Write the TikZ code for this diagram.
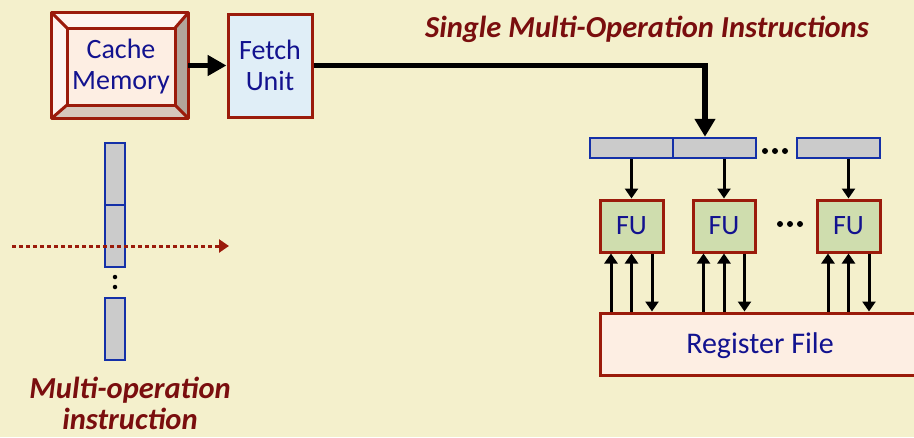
\documentclass[tikz,border=0pt]{standalone}
\usepackage{fontspec}
\setmainfont{Carlito}
\usetikzlibrary{arrows.meta,calc}
\definecolor{bg}{HTML}{F4F0CC}
\definecolor{dred}{HTML}{9B1B0B}
\definecolor{navy}{HTML}{12128F}
\definecolor{ttl}{HTML}{7A0E0E}
\definecolor{grayc}{HTML}{CBCBCB}
\definecolor{bluec}{HTML}{1430A8}
\definecolor{fetchc}{HTML}{E0EEF7}
\definecolor{fuc}{HTML}{CFDDAE}
\definecolor{pinkc}{HTML}{FDEEE3}
\definecolor{bevlight}{HTML}{FEF4EE}
\definecolor{bevright}{HTML}{B2A59A}
\definecolor{bevbottom}{HTML}{D6C7BC}
\tikzset{
  unitbox/.style={draw=dred, line width=3, text=navy, font=\fontsize{28}{31}\selectfont,
    align=center, inner sep=0, rectangle},
  slot/.style={draw=bluec, line width=2.5, fill=grayc, inner sep=0, rectangle},
  sarrow/.style={line width=3, -{Triangle[length=10,width=13]}},
  dotnode/.style={circle, fill=black, inner sep=0, minimum size=6},
  smalldot/.style={circle, fill=black, inner sep=0, minimum size=4.5},
  label/.style={text=ttl, font=\fontsize{30.5}{31}\selectfont\bfseries\itshape, align=center}
}
\begin{document}
\begin{tikzpicture}[x=1pt,y=-1pt]
\useasboundingbox (0,0) rectangle (914,437);
\fill[bg] (0,0) rectangle (914,437);

% Cache memory (bevelled)
\node[rectangle, minimum width=136, minimum height=105, inner sep=0] (cacheout) at (120,65.5) {};
\coordinate (cin-nw) at (67,28);
\coordinate (cin-ne) at (175,28);
\coordinate (cin-se) at (175,105);
\coordinate (cin-sw) at (67,105);
\fill[bevlight] (cacheout.north west) -- (cacheout.north east) -- (cin-ne) -- (cin-nw) -- cycle;
\fill[bevlight] (cacheout.north west) -- (cin-nw) -- (cin-sw) -- (cacheout.south west) -- cycle;
\fill[bevright] (cacheout.north east) -- (cacheout.south east) -- (cin-se) -- (cin-ne) -- cycle;
\fill[bevbottom] (cacheout.south west) -- (cacheout.south east) -- (cin-se) -- (cin-sw) -- cycle;
\node[unitbox, fill=pinkc, minimum width=108, minimum height=77] (cache) at (121,66.5) {Cache\\Memory};
\draw[dred, line width=3, line join=round] (cacheout.north west) rectangle (cacheout.south east);
\draw[dred, line width=3] (cacheout.north west) -- (cin-nw) (cacheout.north east) -- (cin-ne)
  (cacheout.south east) -- (cin-se) (cacheout.south west) -- (cin-sw);

% Fetch unit
\node[unitbox, fill=fetchc, minimum width=84, minimum height=103] (fetch) at (270,65.5) {Fetch\\Unit};
\draw[line width=5.5, -{Triangle[length=19,width=20]}] (cacheout.east |- fetch.west) -- (fetch.west);

% Title
\node[label] (title) at (647,29) {Single Multi-Operation Instructions};

% Instruction slots
\node[slot, minimum width=83, minimum height=20] (s1) at (631.5,148) {};
\node[slot, minimum width=83, minimum height=20] (s2) at (714.5,148) {};
\node[slot, minimum width=83, minimum height=20] (s3) at (838.5,148) {};
\node[dotnode] (d1) at (765,151) {};
\node[dotnode] (d2) at (775,151) {};
\node[dotnode] (d3) at (785,151) {};

\coordinate (irtop) at ($(s2.north)+(-9.5,0)$);
\draw[line width=5.5, -{Triangle[length=18,width=20]}] (fetch.east) -| (irtop);

% FUs
\node[unitbox, fill=fuc, minimum width=63, minimum height=52] (f1) at (631.5,226) {FU};
\node[unitbox, fill=fuc, minimum width=62, minimum height=52] (f2) at (724,226) {FU};
\node[unitbox, fill=fuc, minimum width=63, minimum height=52] (f3) at (848.5,226) {FU};
\node[dotnode] (e1) at (780,224) {};
\node[dotnode] (e2) at (790,224) {};
\node[dotnode] (e3) at (800,224) {};

\draw[sarrow] (f1.north |- s1.south) -- (f1.north);
\draw[sarrow] (f2.north |- s2.south) -- (f2.north);
\draw[sarrow] (f3.north |- s3.south) -- (f3.north);

% Register file
\node[unitbox, fill=pinkc, minimum width=320, minimum height=62, font=\fontsize{30}{30}\selectfont,
  text depth=0.25ex] (rf) at (760,344) {Register File};

\foreach \f in {f1,f2,f3} {
  \coordinate (\f a) at ($(\f.south)+(-20.5,0)$);
  \coordinate (\f b) at ($(\f.south)+(0,0)$);
  \coordinate (\f c) at ($(\f.south)+(20.5,0)$);
  \draw[sarrow] (\f a |- rf.north) -- (\f a);
  \draw[sarrow] (\f b |- rf.north) -- (\f b);
  \draw[sarrow] (\f c) -- (\f c |- rf.north);
}

% Multi-operation instruction column
\node[slot, minimum width=20, minimum height=62] (c1) at (115,174) {};
\node[slot, minimum width=20, minimum height=62] (c2) at (115,236) {};
\node[slot, minimum width=20, minimum height=62] (c3) at (115,329) {};
\node[smalldot] (v1) at (115,277) {};
\node[smalldot] (v2) at (115,287) {};

\coordinate (ds) at (12,246);
\coordinate (de) at (229,246);
\draw[dred, line width=3, dash pattern=on 4 off 3, -{Triangle[length=10,width=13]}] (ds) -- (de);

\node[label] (moi) at (130,403) {Multi-operation\\instruction};
\end{tikzpicture}
\end{document}
